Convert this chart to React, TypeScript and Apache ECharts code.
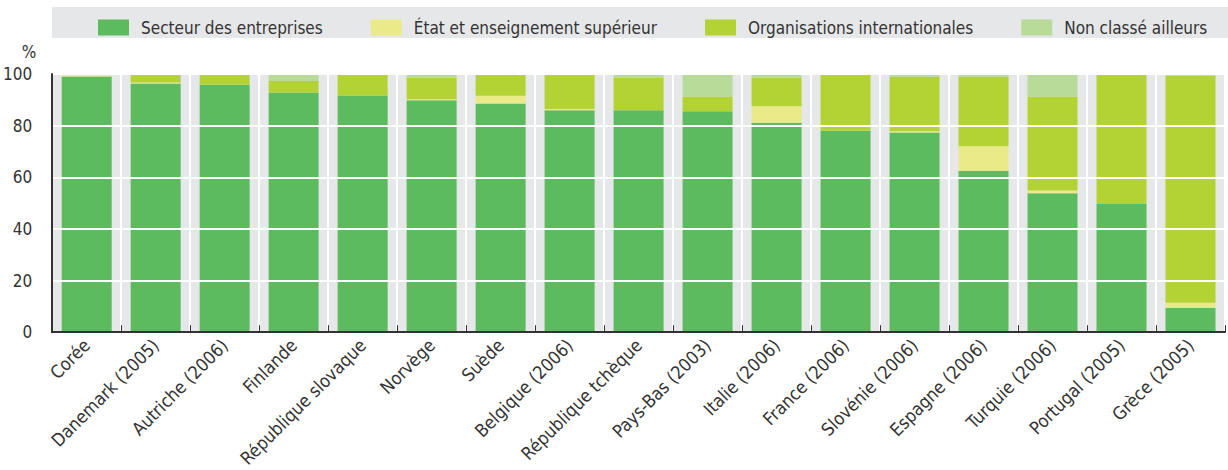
import React, { useEffect, useRef } from "react";
import * as echarts from "echarts";

const categories = [
  "Corée", "Danemark (2005)", "Autriche (2006)", "Finlande", "République slovaque",
  "Norvège", "Suède", "Belgique (2006)", "République tchèque", "Pays-Bas (2003)",
  "Italie (2006)", "France (2006)", "Slovénie (2006)", "Espagne (2006)",
  "Turquie (2006)", "Portugal (2005)", "Grèce (2005)",
];
const entreprises = [99.0, 96.3, 95.8, 92.8, 91.7, 89.8, 88.6, 86.0, 86.0, 85.6, 81.1, 78.0, 77.3, 62.5, 53.8, 49.6, 9.5];
const etatEnseignement = [0.7, 0.4, 0, 0, 0, 0.4, 3.0, 0.4, 0, 0, 6.4, 0, 0.5, 9.5, 1.1, 0, 1.9];
const organisations = [0, 3.3, 3.8, 4.5, 8.3, 8.3, 8.4, 13.3, 12.5, 5.7, 11.0, 22.0, 21.1, 26.9, 36.4, 50.4, 87.9];
const nonClasse = [0.3, 0, 0.4, 2.7, 0, 1.5, 0, 0.3, 1.5, 8.7, 1.5, 0, 1.1, 1.1, 8.7, 0, 0.7];
const yTicks = [0, 20, 40, 60, 80, 100];

const seriesNames = [
  "Secteur des entreprises",
  "État et enseignement supérieur",
  "Organisations internationales",
  "Non classé ailleurs",
];
const colors = ["#5dbb5f", "#eaea88", "#b3d334", "#b8db9a"];
const FONT = "'Liberation Sans Narrow', 'DejaVu Sans Condensed', 'Arial Narrow', sans-serif";
const TXT = "#333333";

export default function App() {
  const ref = useRef<HTMLDivElement>(null);
  useEffect(() => {
    if (!ref.current) return;
    const chart = echarts.init(ref.current, undefined, { renderer: "svg" });
    const data = [entreprises, etatEnseignement, organisations, nonClasse];
    chart.setOption({
      animation: false,
      textStyle: { fontFamily: FONT },
      graphic: [
        {
          type: "rect",
          shape: { x: 52, y: 7, width: 1176, height: 31 },
          style: { fill: "#e6e7e8" },
          z: -1,
        },
      ],
      legend: {
        left: 93,
        top: 14,
        itemWidth: 31,
        itemHeight: 16,
        itemGap: 48,
        selectedMode: false,
        icon: "rect",
        textStyle: { fontFamily: FONT, fontSize: 17, color: TXT, padding: [0, 0, 0, 7] },
        data: seriesNames,
      },
      grid: {
        left: 52,
        right: 3,
        top: 74,
        bottom: 132,
        show: true,
        backgroundColor: "#e6e7e8",
        borderWidth: 0,
      },
      xAxis: {
        type: "category",
        data: categories,
        axisLine: { show: true, lineStyle: { color: "#333", width: 2 } },
        axisTick: { show: true, inside: true, length: 7, lineStyle: { color: "#333", width: 1 } },
        splitLine: { show: true, lineStyle: { color: "#ffffff", width: 2 } },
        axisLabel: {
          rotate: 45,
          interval: 0,
          margin: 10,
          fontSize: 18,
          fontFamily: FONT,
          color: TXT,
        },
        z: 5,
      },
      yAxis: {
        type: "value",
        min: yTicks[0],
        max: yTicks[yTicks.length - 1],
        interval: 20,
        name: "%",
        nameLocation: "end",
        nameGap: 14,
        nameTextStyle: { fontSize: 17, color: TXT, fontFamily: FONT, align: "right", padding: [0, 16, 0, 0] },
        axisLine: { show: true, lineStyle: { color: "#333", width: 2 } },
        axisTick: { show: false },
        splitLine: { show: true, lineStyle: { color: "#ffffff", width: 2 } },
        axisLabel: { fontSize: 17, color: TXT, fontFamily: FONT, margin: 20 },
        z: 5,
      },
      series: seriesNames.map((name, i) => ({
        name,
        type: "bar",
        stack: "total",
        barWidth: 50,
        data: data[i],
        itemStyle: { color: colors[i] },
        emphasis: { disabled: true },
      })),
    });
    return () => chart.dispose();
  }, []);
  return (
    <div
      ref={ref}
      style={{ position: "fixed", left: 0, top: 0, width: 1228, height: 470, background: "#fff" }}
    />
  );
}
